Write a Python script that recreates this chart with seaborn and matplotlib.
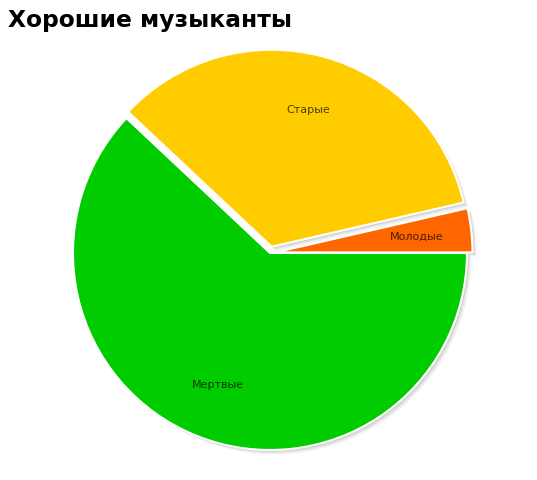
import matplotlib
matplotlib.use("Agg")
import matplotlib.pyplot as plt
import seaborn as sns

labels = ["Молодые", "Старые", "Мертвые"]
values = [3.6, 34.4, 62.0]
colors = ["#FF6600", "#FFCC00", "#00CC00"]
explode = [0.028, 0.033, 0.0]

sns.set_theme(style="white")
plt.rcParams['font.family'] = ['DejaVu Sans']

fig = plt.figure(figsize=(5.37, 4.8), dpi=100)

# pie centre ~ (270, 253) px, radius ~197 px
lim = 1.12
cx, cy, r = 270, 253, 197
w = 2 * r * lim
ax = fig.add_axes([(cx - w / 2) / 537, (480 - cy - w / 2) / 480, w / 537, w / 480])

# soft grey drop shadow
for off, a in [(0.022, 0.10), (0.015, 0.15), (0.009, 0.2)]:
    ax.pie(values, explode=explode, startangle=0, counterclock=True,
           colors=["#888888"] * len(values), center=(off, -off),
           wedgeprops={'linewidth': 0, 'alpha': a})

wedges, texts = ax.pie(
    values, labels=labels, colors=colors, explode=explode,
    startangle=0, counterclock=True, labeldistance=0.72,
    wedgeprops={'edgecolor': 'white', 'linewidth': 1.5},
    textprops={'fontsize': 8, 'color': 'black',
               'alpha': 0.7, 'ha': 'center', 'va': 'center'},
)
ax.set_xlim(-lim, lim)
ax.set_ylim(-lim, lim)
ax.set_aspect('equal')
ax.axis('off')

fig.text(8 / 537, 1 - 20.5 / 480, "Хорошие музыканты", fontsize=16.8, fontweight='bold',
         ha='left', va='center', color='black')

fig.savefig("out.png", dpi=100)
